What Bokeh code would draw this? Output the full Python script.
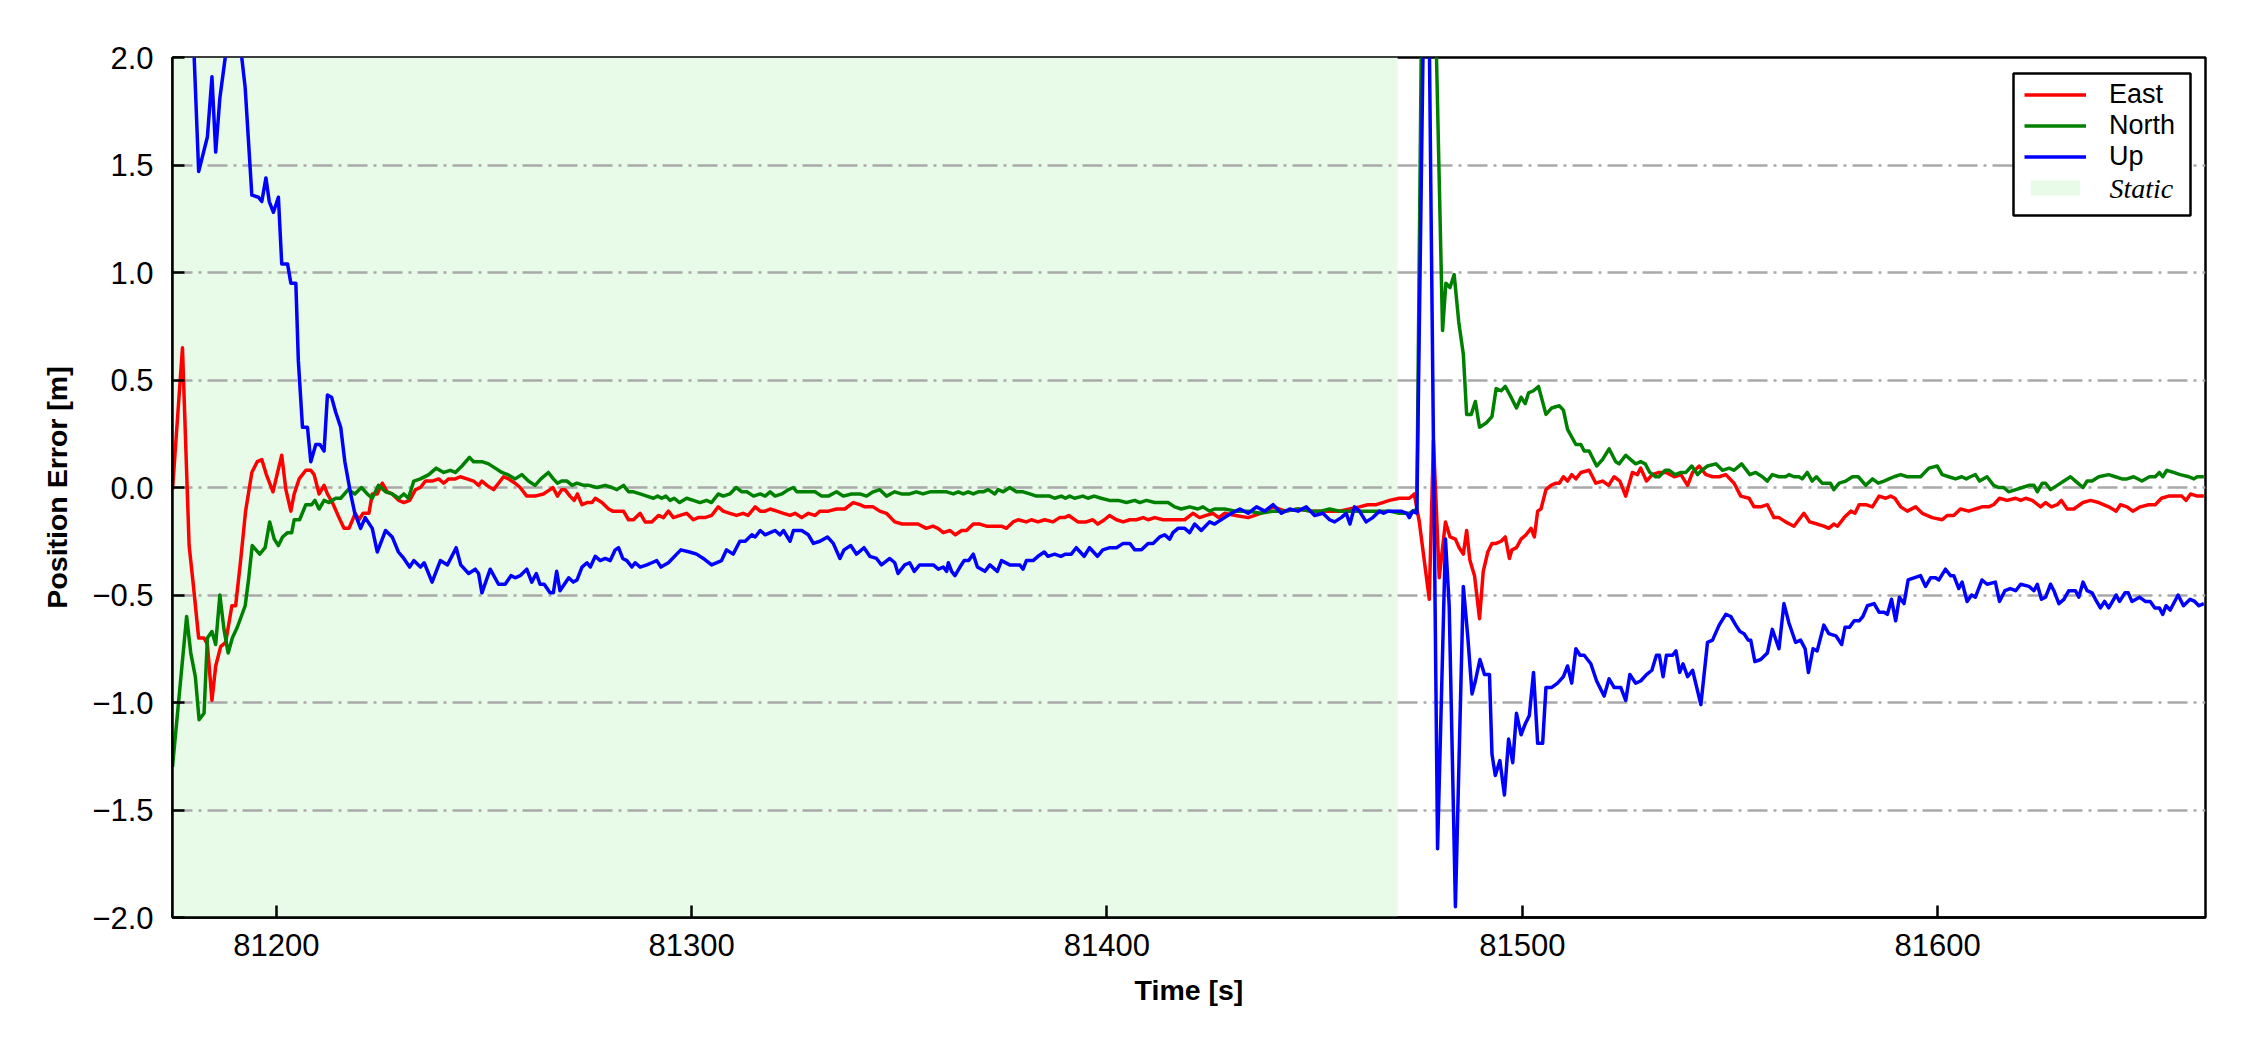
from bokeh.plotting import figure
from bokeh.models import (Range1d, FixedTicker, CustomJSTickFormatter, Legend,
                          LegendItem, Label, BoxAnnotation)
from bokeh.embed import file_html
from bokeh.resources import INLINE

# ---------------- data ----------------
east_t = [81175.0, 81177.4, 81179.0, 81180.0, 81181.3, 81182.6, 81183.4, 81184.5, 81185.4, 81186.6,
          81187.8, 81189.3, 81190.2, 81191.4, 81192.6, 81194.1, 81195.4, 81196.5, 81197.6, 81199.2,
          81200.3, 81201.3, 81202.3, 81203.5, 81204.3, 81205.5, 81207.1, 81208.3, 81209.1, 81210.3,
          81211.5, 81212.3, 81213.5, 81215.1, 81216.3, 81217.5, 81219.0, 81219.9, 81220.9, 81222.3,
          81223.1, 81224.3, 81225.5, 81226.7, 81227.9, 81229.5, 81230.7, 81232.1, 81233.5, 81234.7,
          81235.9, 81237.5, 81239.1, 81240.3, 81241.5, 81243.1, 81244.3, 81245.9, 81247.5, 81248.7,
          81249.5, 81250.7, 81252.3, 81253.5, 81254.7, 81255.9, 81257.5, 81258.7, 81260.3, 81262.3,
          81264.3, 81265.9, 81266.6, 81267.7, 81268.7, 81269.5, 81270.7, 81271.7, 81272.5, 81273.6,
          81274.8, 81276.0, 81276.8, 81278.4, 81280.0, 81281.0, 81282.8, 81283.6, 81284.8, 81286.0,
          81287.6, 81288.8, 81290.4, 81292.0, 81293.2, 81294.4, 81295.6, 81297.2, 81298.8, 81300.4,
          81301.6, 81303.2, 81304.8, 81306.4, 81307.6, 81309.2, 81310.8, 81312.4, 81313.6, 81315.3,
          81316.5, 81317.7, 81318.9, 81320.5, 81322.1, 81323.7, 81324.9, 81326.5, 81328.1, 81329.7,
          81330.9, 81332.9, 81334.9, 81336.9, 81338.9, 81340.5, 81341.7, 81343.7, 81345.3, 81346.9,
          81348.9, 81350.7, 81352.5, 81354.5, 81356.5, 81358.1, 81359.3, 81360.6, 81362.2, 81363.5,
          81365.0, 81366.2, 81367.8, 81369.4, 81371.0, 81373.0, 81374.6, 81375.8, 81377.4, 81378.6,
          81380.6, 81381.8, 81383.4, 81385.0, 81387.0, 81388.6, 81389.8, 81390.8, 81393.0, 81395.0,
          81396.6, 81397.8, 81399.4, 81400.6, 81402.3, 81403.9, 81405.5, 81407.1, 81408.7, 81409.9,
          81411.5, 81413.5, 81415.5, 81417.1, 81418.7, 81420.7, 81422.3, 81423.9, 81425.5, 81426.9,
          81428.3, 81431.0, 81434.0, 81437.0, 81440.0, 81443.0, 81446.0, 81449.0, 81451.5, 81453.6,
          81456.0, 81458.4, 81460.8, 81462.8, 81464.8, 81466.4, 81468.0, 81470.4, 81472.8, 81474.0,
          81475.2, 81477.6, 81478.6, 81480.0, 81481.5, 81482.6, 81483.9, 81484.8, 81485.8, 81486.6,
          81487.4, 81488.5, 81489.7, 81490.6, 81491.7, 81492.7, 81493.7, 81494.9, 81495.9, 81496.9,
          81497.5, 81498.6, 81499.7, 81500.9, 81502.1, 81502.9, 81503.7, 81504.5, 81505.7, 81506.9,
          81508.1, 81508.9, 81509.9, 81510.9, 81511.9, 81512.9, 81514.1, 81516.1, 81517.7, 81519.3,
          81520.8, 81522.1, 81523.5, 81524.9, 81526.5, 81527.7, 81528.5, 81529.9, 81531.3, 81532.9,
          81534.6, 81536.6, 81538.2, 81539.8, 81541.0, 81542.6, 81544.2, 81545.8, 81547.4, 81549.0,
          81551.0, 81552.6, 81554.6, 81555.8, 81557.4, 81559.0, 81560.6, 81561.8, 81563.4, 81565.4,
          81566.6, 81567.8, 81569.2, 81571.0, 81572.6, 81573.8, 81575.0, 81575.9, 81577.5, 81579.1,
          81580.1, 81581.1, 81582.7, 81584.3, 81585.9, 81587.5, 81588.7, 81589.7, 81591.1, 81592.7,
          81594.7, 81596.3, 81598.7, 81601.1, 81602.3, 81603.9, 81605.5, 81607.5, 81609.1, 81610.7,
          81612.3, 81613.5, 81614.9, 81616.7, 81618.8, 81620.0, 81621.2, 81622.8, 81624.8, 81626.0,
          81627.4, 81628.8, 81629.8, 81631.2, 81632.8, 81635.0, 81636.8, 81638.8, 81641.2, 81643.0,
          81644.0, 81645.6, 81647.0, 81648.8, 81650.8, 81652.4, 81653.9, 81655.6, 81657.2, 81658.8,
          81659.8, 81660.9, 81662.5, 81664.1]
east_v = [-0.01, 0.65, -0.27, -0.45, -0.70, -0.70, -0.73, -0.99, -0.83, -0.74,
          -0.72, -0.55, -0.55, -0.34, -0.11, 0.07, 0.12, 0.13, 0.06, -0.02,
          0.07, 0.15, -0.01, -0.11, -0.03, 0.04, 0.08, 0.08, 0.06, -0.03,
          0.01, -0.03, -0.07, -0.14, -0.19, -0.19, -0.12, -0.15, -0.12, -0.12,
          -0.03, -0.03, 0.02, -0.02, -0.03, -0.06, -0.07, -0.06, -0.01, 0.00,
          0.03, 0.03, 0.04, 0.02, 0.04, 0.04, 0.05, 0.04, 0.03, 0.01,
          0.03, 0.01, -0.01, 0.02, 0.05, 0.04, 0.02, 0.00, -0.04, -0.04,
          -0.03, -0.01, 0.00, -0.04, -0.01, -0.01, -0.04, -0.06, -0.03, -0.08,
          -0.07, -0.07, -0.05, -0.07, -0.10, -0.11, -0.11, -0.11, -0.15, -0.15,
          -0.12, -0.16, -0.16, -0.13, -0.14, -0.11, -0.14, -0.13, -0.12, -0.15,
          -0.14, -0.14, -0.13, -0.09, -0.11, -0.12, -0.13, -0.12, -0.13, -0.09,
          -0.11, -0.11, -0.10, -0.11, -0.12, -0.13, -0.12, -0.14, -0.12, -0.13,
          -0.11, -0.11, -0.10, -0.10, -0.07, -0.08, -0.09, -0.09, -0.11, -0.12,
          -0.16, -0.17, -0.17, -0.17, -0.19, -0.18, -0.19, -0.21, -0.20, -0.22,
          -0.20, -0.20, -0.17, -0.17, -0.18, -0.18, -0.18, -0.19, -0.16, -0.15,
          -0.16, -0.15, -0.16, -0.15, -0.16, -0.14, -0.14, -0.13, -0.16, -0.16,
          -0.15, -0.17, -0.15, -0.13, -0.15, -0.16, -0.15, -0.15, -0.14, -0.15,
          -0.14, -0.15, -0.15, -0.15, -0.15, -0.12, -0.14, -0.13, -0.12, -0.14,
          -0.12, -0.13, -0.14, -0.12, -0.09, -0.11, -0.10, -0.11, -0.11, -0.11,
          -0.11, -0.10, -0.09, -0.08, -0.08, -0.07, -0.06, -0.05, -0.05, -0.03,
          -0.16, -0.52, 0.22, -0.42, -0.16, -0.23, -0.24, -0.28, -0.31, -0.20,
          -0.34, -0.41, -0.61, -0.39, -0.30, -0.26, -0.26, -0.25, -0.23, -0.33,
          -0.29, -0.28, -0.24, -0.22, -0.19, -0.23, -0.11, -0.10, -0.01, 0.01,
          0.02, 0.02, 0.05, 0.03, 0.06, 0.04, 0.07, 0.08, 0.02, 0.03,
          0.01, 0.05, 0.03, -0.04, 0.07, 0.06, 0.09, 0.03, 0.06, 0.07,
          0.07, 0.05, 0.06, 0.01, 0.07, 0.10, 0.06, 0.05, 0.05, 0.06,
          0.02, -0.04, -0.05, -0.09, -0.09, -0.08, -0.14, -0.14, -0.16, -0.18,
          -0.15, -0.12, -0.16, -0.17, -0.18, -0.19, -0.17, -0.18, -0.14, -0.11,
          -0.12, -0.08, -0.08, -0.09, -0.04, -0.05, -0.04, -0.05, -0.09, -0.11,
          -0.09, -0.12, -0.14, -0.15, -0.13, -0.13, -0.10, -0.11, -0.10, -0.09,
          -0.09, -0.08, -0.05, -0.06, -0.05, -0.06, -0.05, -0.06, -0.09, -0.07,
          -0.09, -0.08, -0.06, -0.10, -0.10, -0.07, -0.06, -0.07, -0.09, -0.11,
          -0.08, -0.09, -0.11, -0.09, -0.08, -0.08, -0.05, -0.04, -0.04, -0.04,
          -0.06, -0.03, -0.04, -0.04]

north_t = [81175.0, 81176.4, 81178.4, 81179.4, 81180.5, 81181.4, 81182.6, 81183.4, 81184.5, 81185.4,
           81186.4, 81187.4, 81188.4, 81189.4, 81190.6, 81192.5, 81193.3, 81194.2, 81196.0, 81197.3,
           81198.4, 81199.5, 81200.5, 81201.5, 81202.7, 81203.7, 81204.3, 81205.6, 81207.1, 81208.5,
           81209.3, 81210.3, 81211.5, 81212.7, 81214.3, 81215.5, 81217.3, 81218.9, 81220.5, 81221.9,
           81223.1, 81224.6, 81226.3, 81227.9, 81229.5, 81230.7, 81231.8, 81233.1, 81234.7, 81236.7,
           81238.5, 81240.3, 81241.9, 81243.1, 81244.7, 81246.5, 81247.5, 81249.5, 81251.1, 81252.7,
           81254.3, 81255.7, 81257.5, 81259.1, 81260.7, 81262.3, 81263.7, 81265.5, 81266.7, 81267.7,
           81268.7, 81270.0, 81271.2, 81272.4, 81274.0, 81275.2, 81277.2, 81279.2, 81280.8, 81282.0,
           81283.6, 81284.8, 81286.0, 81287.6, 81289.2, 81290.8, 81291.8, 81292.8, 81293.8, 81294.8,
           81295.8, 81297.1, 81298.8, 81300.4, 81302.0, 81303.6, 81304.8, 81306.4, 81307.6, 81309.2,
           81310.7, 81312.1, 81313.3, 81314.9, 81316.5, 81317.7, 81318.9, 81320.1, 81321.7, 81323.3,
           81324.5, 81325.3, 81326.9, 81328.9, 81329.7, 81331.3, 81332.9, 81334.9, 81336.5, 81338.5,
           81340.5, 81342.1, 81343.7, 81345.3, 81346.9, 81348.9, 81350.5, 81352.5, 81354.1, 81355.7,
           81357.4, 81359.4, 81361.4, 81363.0, 81364.2, 81365.4, 81366.6, 81367.8, 81369.0, 81370.2,
           81371.4, 81373.0, 81373.8, 81375.0, 81376.6, 81378.2, 81379.8, 81381.4, 81383.0, 81384.6,
           81386.2, 81387.4, 81389.0, 81390.0, 81391.0, 81392.2, 81394.2, 81395.4, 81396.9, 81398.6,
           81400.6, 81402.7, 81404.7, 81406.7, 81407.9, 81409.5, 81411.5, 81412.7, 81413.9, 81414.7,
           81416.3, 81417.9, 81419.9, 81421.9, 81423.1, 81424.7, 81425.9, 81428.3, 81431.0, 81434.0,
           81437.0, 81440.0, 81443.0, 81446.0, 81449.0, 81451.5, 81453.6, 81456.0, 81458.4, 81460.8,
           81463.2, 81465.6, 81468.0, 81470.4, 81472.8, 81474.6, 81476.0, 81478.0, 81479.0, 81480.8,
           81481.6, 81482.6, 81483.6, 81484.7, 81485.8, 81486.6, 81487.7, 81488.7, 81489.7, 81491.3,
           81492.7, 81493.7, 81494.9, 81495.9, 81497.3, 81498.6, 81499.7, 81500.7, 81501.5, 81502.7,
           81503.9, 81505.7, 81507.1, 81508.9, 81509.9, 81510.9, 81512.9, 81514.1, 81514.9, 81516.1,
           81517.9, 81519.3, 81520.9, 81522.5, 81523.3, 81524.9, 81526.1, 81527.3, 81528.5, 81529.6,
           81530.7, 81532.1, 81532.9, 81534.4, 81535.4, 81536.8, 81538.2, 81539.4, 81540.8, 81542.2,
           81543.2, 81544.6, 81546.6, 81548.2, 81549.8, 81551.0, 81552.8, 81554.8, 81556.2, 81557.8,
           81559.0, 81560.2, 81561.8, 81563.4, 81564.2, 81565.4, 81566.6, 81567.4, 81568.6, 81569.8,
           81570.8, 81572.2, 81573.4, 81574.2, 81575.0, 81576.3, 81577.9, 81579.5, 81580.9, 81582.7,
           81584.3, 81585.7, 81587.1, 81588.3, 81589.5, 81591.1, 81592.7, 81593.9, 81595.9, 81597.9,
           81599.9, 81601.1, 81602.7, 81604.3, 81605.8, 81606.9, 81607.9, 81609.1, 81610.1, 81611.9,
           81613.5, 81614.7, 81615.9, 81617.1, 81618.8, 81620.4, 81622.0, 81623.2, 81624.0, 81625.2,
           81626.0, 81627.2, 81628.8, 81630.4, 81632.0, 81633.2, 81635.0, 81636.0, 81637.2, 81638.8,
           81641.2, 81642.8, 81644.4, 81645.6, 81647.2, 81649.2, 81651.0, 81652.4, 81653.4, 81654.2,
           81655.2, 81656.8, 81658.4, 81660.5, 81661.7, 81662.5, 81664.1]
north_v = [-1.30, -1.01, -0.60, -0.77, -0.88, -1.08, -1.05, -0.70, -0.67, -0.73,
           -0.50, -0.66, -0.77, -0.70, -0.65, -0.55, -0.43, -0.27, -0.31, -0.28,
           -0.16, -0.24, -0.27, -0.23, -0.21, -0.21, -0.15, -0.15, -0.08, -0.08,
           -0.06, -0.10, -0.06, -0.07, -0.05, -0.05, -0.01, -0.03, 0.00, -0.03,
           -0.05, 0.01, -0.02, -0.03, -0.05, -0.03, -0.05, 0.03, 0.04, 0.06,
           0.09, 0.07, 0.08, 0.07, 0.10, 0.14, 0.12, 0.12, 0.11, 0.09,
           0.07, 0.06, 0.04, 0.06, 0.03, 0.01, 0.04, 0.07, 0.04, 0.02,
           0.03, 0.03, 0.01, 0.02, 0.01, 0.01, 0.00, 0.01, 0.00, -0.01,
           0.01, -0.02, -0.02, -0.03, -0.04, -0.05, -0.04, -0.05, -0.04, -0.06,
           -0.05, -0.07, -0.05, -0.06, -0.07, -0.06, -0.07, -0.03, -0.04, -0.03,
           0.00, -0.02, -0.02, -0.04, -0.03, -0.04, -0.02, -0.04, -0.03, -0.01,
           0.00, -0.02, -0.02, -0.02, -0.02, -0.04, -0.04, -0.02, -0.04, -0.03,
           -0.03, -0.04, -0.02, -0.01, -0.04, -0.02, -0.03, -0.03, -0.02, -0.03,
           -0.02, -0.02, -0.02, -0.03, -0.02, -0.03, -0.02, -0.03, -0.02, -0.02,
           -0.01, -0.03, -0.01, -0.02, 0.00, -0.02, -0.02, -0.03, -0.04, -0.04,
           -0.04, -0.05, -0.04, -0.05, -0.04, -0.05, -0.04, -0.05, -0.04, -0.05,
           -0.06, -0.06, -0.07, -0.06, -0.07, -0.06, -0.07, -0.07, -0.07, -0.07,
           -0.09, -0.10, -0.09, -0.10, -0.09, -0.11, -0.10, -0.10, -0.11, -0.11,
           -0.12, -0.11, -0.11, -0.10, -0.11, -0.11, -0.10, -0.11, -0.11, -0.11,
           -0.11, -0.11, -0.11, -0.12, -0.12, -0.10, 2.70, 3.00, 2.30, 0.73,
           0.95, 0.93, 0.99, 0.77, 0.62, 0.34, 0.34, 0.40, 0.28, 0.30,
           0.33, 0.46, 0.45, 0.47, 0.42, 0.37, 0.42, 0.39, 0.44, 0.45,
           0.47, 0.34, 0.37, 0.38, 0.36, 0.27, 0.20, 0.20, 0.17, 0.17,
           0.10, 0.13, 0.18, 0.12, 0.11, 0.15, 0.13, 0.11, 0.12, 0.11,
           0.07, 0.05, 0.05, 0.08, 0.08, 0.06, 0.07, 0.07, 0.10, 0.06,
           0.08, 0.10, 0.11, 0.08, 0.09, 0.08, 0.11, 0.06, 0.07, 0.05,
           0.03, 0.06, 0.05, 0.05, 0.06, 0.05, 0.05, 0.04, 0.07, 0.03,
           0.05, 0.02, 0.02, 0.02, -0.01, 0.02, 0.03, 0.05, 0.05, 0.01,
           0.04, 0.02, 0.03, 0.04, 0.05, 0.06, 0.05, 0.05, 0.05, 0.09,
           0.10, 0.06, 0.05, 0.04, 0.05, 0.04, 0.05, 0.06, 0.03, 0.05,
           0.01, 0.00, 0.00, -0.02, -0.01, 0.00, 0.01, 0.01, -0.02, 0.02,
           0.02, -0.01, 0.01, 0.03, 0.05, 0.03, 0.00, 0.03, 0.03, 0.05,
           0.06, 0.05, 0.04, 0.04, 0.05, 0.03, 0.05, 0.05, 0.07, 0.05,
           0.08, 0.07, 0.06, 0.05, 0.04, 0.05, 0.05]

up_t = [81175.0, 81177.0, 81179.0, 81181.3, 81183.4, 81184.5, 81185.4, 81186.4, 81187.7, 81188.5,
        81190.5, 81192.5, 81194.1, 81195.7, 81196.5, 81197.5, 81198.3, 81199.3, 81200.5, 81201.3,
        81202.7, 81203.5, 81204.7, 81205.3, 81206.3, 81207.5, 81208.3, 81209.5, 81210.5, 81211.5,
        81212.3, 81213.3, 81214.3, 81215.5, 81216.5, 81217.9, 81218.9, 81220.3, 81221.4, 81223.1,
        81224.3, 81225.5, 81226.3, 81227.9, 81229.4, 81230.7, 81232.1, 81233.1, 81234.7, 81235.6,
        81237.5, 81239.5, 81241.2, 81243.3, 81244.4, 81246.3, 81247.9, 81248.7, 81249.5, 81251.5,
        81253.5, 81255.1, 81256.5, 81257.5, 81258.7, 81260.3, 81261.5, 81262.6, 81263.5, 81264.5,
        81265.9, 81266.7, 81267.5, 81268.3, 81270.4, 81271.5, 81272.4, 81273.6, 81274.8, 81275.6,
        81276.8, 81278.0, 81279.2, 81280.4, 81281.6, 81282.4, 81283.4, 81284.4, 81285.6, 81286.4,
        81287.6, 81289.2, 81290.4, 81291.6, 81292.6, 81294.4, 81296.4, 81297.4, 81299.5, 81301.2,
        81302.8, 81304.8, 81307.2, 81308.4, 81310.0, 81311.6, 81312.9, 81314.5, 81315.3, 81316.5,
        81317.7, 81318.9, 81320.1, 81321.3, 81322.1, 81323.7, 81324.5, 81326.5, 81328.1, 81329.3,
        81330.9, 81332.7, 81334.1, 81335.7, 81336.7, 81338.3, 81339.7, 81341.5, 81342.9, 81344.5,
        81345.7, 81347.7, 81348.9, 81349.7, 81351.3, 81352.5, 81353.6, 81354.9, 81356.9, 81358.2,
        81359.4, 81360.6, 81361.4, 81361.8, 81362.6, 81363.4, 81364.6, 81365.6, 81366.7, 81367.8,
        81368.8, 81370.6, 81371.8, 81373.6, 81374.6, 81376.6, 81378.2, 81379.0, 81379.8, 81380.6,
        81382.2, 81383.4, 81384.9, 81385.8, 81387.4, 81388.9, 81390.0, 81391.4, 81392.6, 81394.5,
        81395.8, 81397.7, 81399.0, 81400.7, 81402.3, 81403.9, 81405.5, 81406.7, 81408.3, 81409.9,
        81411.1, 81412.7, 81413.9, 81415.1, 81415.9, 81417.1, 81418.7, 81419.9, 81421.1, 81422.7,
        81424.7, 81425.9, 81428.3, 81430.0, 81432.0, 81434.0, 81436.0, 81438.0, 81440.0, 81442.0,
        81444.0, 81446.0, 81448.0, 81450.0, 81452.0, 81453.6, 81454.8, 81456.4, 81457.6, 81458.5,
        81459.6, 81460.8, 81462.4, 81464.0, 81465.6, 81466.6, 81467.6, 81469.2, 81470.8, 81472.2,
        81472.8, 81473.6, 81474.6, 81476.5, 81477.5, 81479.6, 81481.5, 81482.4, 81483.9, 81485.8,
        81486.9, 81487.9, 81488.7, 81489.8, 81490.9, 81492.1, 81492.7, 81493.5, 81494.6, 81495.7,
        81496.7, 81497.7, 81498.6, 81499.7, 81500.7, 81501.7, 81502.7, 81503.7, 81504.9, 81505.7,
        81507.1, 81508.5, 81509.9, 81510.9, 81511.9, 81512.9, 81513.9, 81514.9, 81516.5, 81517.9,
        81519.7, 81520.9, 81522.1, 81523.7, 81524.9, 81525.9, 81527.3, 81528.5, 81529.9, 81531.2,
        81532.3, 81533.0, 81533.9, 81534.7, 81536.2, 81537.0, 81537.9, 81538.7, 81539.8, 81541.0,
        81543.0, 81544.6, 81545.8, 81547.4, 81549.0, 81550.2, 81551.4, 81552.4, 81553.4, 81554.4,
        81555.0, 81556.0, 81557.4, 81559.0, 81560.2, 81561.8, 81563.0, 81564.2, 81565.8, 81567.0,
        81568.1, 81568.9, 81570.0, 81571.0, 81572.6, 81573.8, 81575.5, 81576.9, 81577.7, 81578.8,
        81579.9, 81581.1, 81582.0, 81583.1, 81584.7, 81585.9, 81587.1, 81587.9, 81588.9, 81589.9,
        81590.8, 81591.9, 81592.9, 81594.3, 81595.9, 81597.1, 81598.3, 81599.5, 81600.3, 81601.9,
        81603.1, 81603.9, 81605.1, 81605.9, 81607.1, 81608.2, 81609.1, 81610.7, 81611.9, 81613.9,
        81614.9, 81616.2, 81617.5, 81618.8, 81620.0, 81622.0, 81623.2, 81624.0, 81625.0, 81626.0,
        81627.2, 81628.0, 81629.2, 81630.4, 81631.6, 81633.2, 81634.0, 81635.0, 81636.0, 81637.2,
        81638.0, 81639.2, 81640.2, 81641.2, 81643.0, 81643.8, 81645.1, 81645.9, 81646.8, 81648.6,
        81650.0, 81651.2, 81652.3, 81653.4, 81654.2, 81655.0, 81656.0, 81657.9, 81659.2, 81660.8,
        81661.9, 81662.9, 81664.1]
up_v = [3.20, 3.00, 2.60, 1.47, 1.63, 1.91, 1.56, 1.81, 2.00, 2.20,
        2.20, 1.86, 1.36, 1.35, 1.33, 1.44, 1.33, 1.28, 1.35, 1.04,
        1.04, 0.95, 0.95, 0.59, 0.28, 0.28, 0.12, 0.20, 0.20, 0.17,
        0.43, 0.42, 0.35, 0.28, 0.12, -0.03, -0.12, -0.19, -0.14, -0.19,
        -0.30, -0.24, -0.20, -0.23, -0.30, -0.33, -0.37, -0.34, -0.37, -0.35,
        -0.44, -0.34, -0.36, -0.28, -0.36, -0.40, -0.38, -0.40, -0.49, -0.38,
        -0.45, -0.45, -0.41, -0.42, -0.41, -0.38, -0.44, -0.40, -0.45, -0.45,
        -0.49, -0.49, -0.39, -0.48, -0.42, -0.44, -0.43, -0.37, -0.35, -0.37,
        -0.32, -0.34, -0.33, -0.34, -0.29, -0.28, -0.33, -0.34, -0.37, -0.35,
        -0.37, -0.36, -0.35, -0.34, -0.37, -0.35, -0.31, -0.29, -0.30, -0.31,
        -0.33, -0.36, -0.34, -0.29, -0.31, -0.25, -0.25, -0.22, -0.23, -0.20,
        -0.22, -0.21, -0.20, -0.22, -0.20, -0.25, -0.20, -0.20, -0.22, -0.26,
        -0.25, -0.23, -0.26, -0.33, -0.29, -0.27, -0.31, -0.28, -0.32, -0.33,
        -0.36, -0.33, -0.35, -0.40, -0.36, -0.35, -0.39, -0.36, -0.36, -0.36,
        -0.38, -0.37, -0.39, -0.35, -0.39, -0.41, -0.37, -0.34, -0.34, -0.31,
        -0.37, -0.39, -0.36, -0.39, -0.34, -0.36, -0.36, -0.36, -0.38, -0.34,
        -0.34, -0.32, -0.30, -0.32, -0.31, -0.32, -0.31, -0.31, -0.28, -0.32,
        -0.28, -0.32, -0.29, -0.28, -0.28, -0.26, -0.26, -0.29, -0.29, -0.26,
        -0.26, -0.23, -0.22, -0.24, -0.21, -0.19, -0.19, -0.21, -0.17, -0.20,
        -0.16, -0.17, -0.14, -0.12, -0.10, -0.12, -0.09, -0.11, -0.08, -0.12,
        -0.10, -0.11, -0.09, -0.13, -0.12, -0.15, -0.16, -0.14, -0.12, -0.17,
        -0.09, -0.11, -0.16, -0.14, -0.11, -0.12, -0.11, -0.11, -0.11, -0.12,
        -0.14, -0.11, -0.12, 2.60, 2.30, -1.68, -0.24, -0.55, -1.95, -0.46,
        -0.70, -0.96, -0.90, -0.80, -0.87, -0.87, -1.24, -1.34, -1.27, -1.43,
        -1.17, -1.28, -1.05, -1.15, -1.10, -1.06, -0.86, -1.19, -1.19, -0.93,
        -0.93, -0.91, -0.88, -0.83, -0.91, -0.75, -0.78, -0.78, -0.82, -0.90,
        -0.97, -0.89, -0.93, -0.93, -0.99, -0.87, -0.91, -0.90, -0.87, -0.85,
        -0.78, -0.78, -0.88, -0.78, -0.78, -0.76, -0.86, -0.82, -0.88, -0.85,
        -1.01, -0.72, -0.71, -0.64, -0.59, -0.60, -0.64, -0.67, -0.68, -0.71,
        -0.71, -0.81, -0.80, -0.77, -0.66, -0.75, -0.54, -0.63, -0.72, -0.71,
        -0.75, -0.86, -0.75, -0.76, -0.64, -0.68, -0.69, -0.73, -0.65, -0.65,
        -0.62, -0.62, -0.60, -0.55, -0.54, -0.58, -0.58, -0.59, -0.52, -0.62,
        -0.51, -0.54, -0.43, -0.42, -0.41, -0.46, -0.42, -0.42, -0.43, -0.38,
        -0.41, -0.41, -0.47, -0.44, -0.53, -0.50, -0.51, -0.43, -0.45, -0.44,
        -0.53, -0.48, -0.47, -0.48, -0.45, -0.46, -0.48, -0.45, -0.52, -0.51,
        -0.45, -0.48, -0.54, -0.52, -0.48, -0.48, -0.51, -0.44, -0.48, -0.49,
        -0.52, -0.56, -0.53, -0.56, -0.50, -0.53, -0.49, -0.49, -0.53, -0.51,
        -0.53, -0.53, -0.56, -0.56, -0.59, -0.55, -0.57, -0.50, -0.55, -0.52,
        -0.53, -0.55, -0.54]

static_interval = [81170.0, 81470.0]
x_limits = [81175.0, 81664.5]
y_limits = [-2.0, 2.0]
x_ticks = [81200, 81300, 81400, 81500, 81600]
y_ticks = [-2.0, -1.5, -1.0, -0.5, 0.0, 0.5, 1.0, 1.5, 2.0]
series_names = ["East", "North", "Up"]
series_colors = ["#ff0000", "#008000", "#0000ff"]
static_name = "Static"

# ---------------- figure ----------------
FONT = "Liberation Sans"
p = figure(width=2234, height=1034, output_backend="svg", toolbar_location=None,
           x_range=Range1d(*x_limits), y_range=Range1d(*y_limits),
           min_border_left=172, min_border_right=29, min_border_top=57,
           min_border_bottom=117)
p.background_fill_color = "white"
p.border_fill_color = "white"
p.outline_line_color = "black"
p.outline_line_width = 2.5

# static shading (drawn beneath the grid)
r_static = p.quad(left=[static_interval[0]], right=[static_interval[1]],
                  bottom=[y_limits[0]], top=[y_limits[1]],
                  fill_color="#e8fbe8", line_color=None, level="image")

renderers = []
for t, v, c in zip([east_t, north_t, up_t], [east_v, north_v, up_v], series_colors):
    r = p.line(t, v, line_color=c, line_width=3.5, line_join="round")
    renderers.append(r)

# grid
p.xgrid.visible = False
p.ygrid.ticker = FixedTicker(ticks=y_ticks)
p.ygrid.grid_line_color = "#a9a9a9"
p.ygrid.grid_line_width = 2.5
p.ygrid.grid_line_dash = "20 6 3 6"

# axes
for ax in (p.xaxis[0], p.yaxis[0]):
    ax.axis_line_width = 2.5
    ax.axis_line_color = "black"
    ax.major_tick_in = 12
    ax.major_tick_out = 0
    ax.major_tick_line_width = 2.5
    ax.minor_tick_line_color = None
    ax.major_label_text_font = FONT
    ax.major_label_text_font_size = "31px"
    ax.major_label_text_color = "black"
    ax.axis_label_text_font = FONT
    ax.axis_label_text_font_style = "bold"
    ax.axis_label_text_font_size = "28.5px"
    ax.axis_label_text_color = "black"

p.xaxis.ticker = FixedTicker(ticks=x_ticks)
p.yaxis.ticker = FixedTicker(ticks=y_ticks)
p.xaxis.formatter = CustomJSTickFormatter(code="return tick.toFixed(0);")
p.yaxis.formatter = CustomJSTickFormatter(code="return tick.toFixed(1).replace('-', '\u2212');")
p.xaxis.axis_label = "Time [s]"
p.yaxis.axis_label = "Position Error [m]"
p.xaxis.major_label_standoff = 16
p.yaxis.major_label_standoff = 19
p.xaxis.axis_label_standoff = 15
p.yaxis.axis_label_standoff = 16

# legend: white box with black border (screen units, relative to the frame)
legend_box = BoxAnnotation(left=1841, right=2018, bottom=702, top=844,
                           left_units="screen", right_units="screen",
                           bottom_units="screen", top_units="screen",
                           fill_color="white", fill_alpha=1.0,
                           line_color="black", line_width=2.5, line_alpha=1.0,
                           level="annotation", editable=False)
p.add_layout(legend_box)

items = [LegendItem(label=n, renderers=[r]) for n, r in zip(series_names, renderers)]
items.append(LegendItem(label=" ", renderers=[r_static]))
legend = Legend(items=items, location=(1842, 704), padding=10, spacing=0,
                label_text_font=FONT, label_text_font_size="27px", label_text_color="black",
                glyph_width=62, glyph_height=19, label_height=31, label_standoff=23,
                border_line_alpha=0.0, background_fill_alpha=0.0)
p.add_layout(legend)

static_label = Label(x=1937, y=729, x_units="screen", y_units="screen", text=static_name,
                     text_font="Liberation Serif", text_font_style="italic",
                     text_font_size="28px", text_baseline="middle", text_align="left",
                     text_color="black")
p.add_layout(static_label)

open("out.html", "w").write(file_html(p, INLINE))
